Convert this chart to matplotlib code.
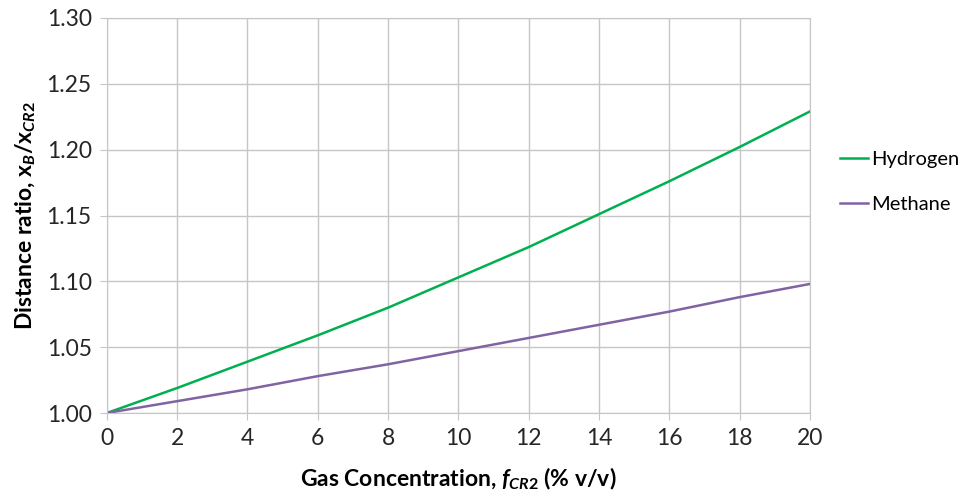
import matplotlib
matplotlib.use("Agg")
from matplotlib import pyplot as plt

plt.rcParams['font.family'] = ['Lato', 'DejaVu Sans']
plt.rcParams['mathtext.fontset'] = 'custom'
plt.rcParams['mathtext.rm'] = 'Lato:bold'
plt.rcParams['mathtext.it'] = 'Lato:bold:italic'
plt.rcParams['mathtext.bf'] = 'Lato:bold'

# gas concentration (% v/v) and distance ratio for each gas
conc = [0, 2, 4, 6, 8, 10, 12, 14, 16, 18, 20]
hydrogen = [1.000, 1.019, 1.039, 1.059, 1.080, 1.103, 1.126, 1.151, 1.176, 1.202, 1.229]
methane = [1.000, 1.009, 1.018, 1.028, 1.037, 1.047, 1.057, 1.067, 1.077, 1.088, 1.098]

fig = plt.figure(figsize=(9.63, 5.0), dpi=100)
ax = fig.add_axes([0.111, 0.174, 0.730, 0.790])

ax.plot(conc, hydrogen, color='#00b050', lw=1.8, label='Hydrogen')
ax.plot(conc, methane, color='#8064a2', lw=1.8, label='Methane')

ax.set_xlim(0, 20)
ax.set_ylim(1.0, 1.30)
ax.set_xticks(range(0, 21, 2))
ax.set_yticks([1.00, 1.05, 1.10, 1.15, 1.20, 1.25, 1.30])
ax.set_yticklabels(['%.2f' % v for v in ax.get_yticks()])
ax.grid(True, color='#c6c6c6', lw=1.0)
ax.set_axisbelow(True)
for s in ax.spines.values():
    s.set_color('#c6c6c6')
ax.tick_params(length=5, color='#c6c6c6', labelsize=16.5, labelcolor='#262626', pad=6)

ax.set_xlabel(r'Gas Concentration, $\mathit{f}_{\mathit{CR2}}$ (% v/v)',
              fontsize=16.5, fontweight='bold', labelpad=12)
ax.set_ylabel(r'Distance ratio, x$_{\mathit{B}}$/x$_{\mathit{CR2}}$',
              fontsize=16.5, fontweight='bold', labelpad=6)

ax.legend(loc='center left', bbox_to_anchor=(1.043, 0.585), frameon=False,
          fontsize=14.5, handlelength=1.4, handletextpad=0.15, labelspacing=1.4,
          borderaxespad=0.0, borderpad=0.0)

fig.savefig('out.png', dpi=100)
